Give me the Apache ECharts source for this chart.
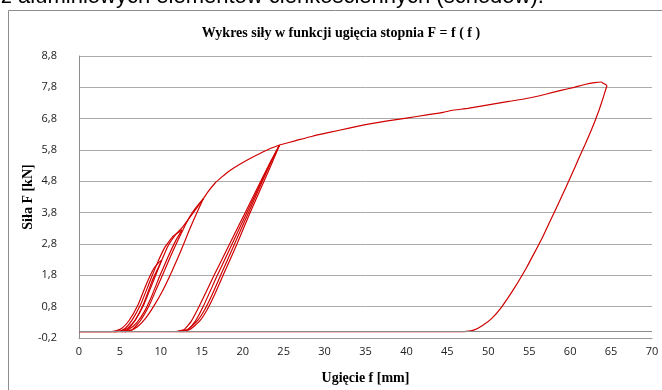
<!DOCTYPE html>
<html>
<head>
<meta charset="utf-8">
<script src="https://cdn.jsdelivr.net/npm/echarts@6/dist/echarts.min.js"></script>
<style>
  html, body { margin: 0; padding: 0; background: #fff; }
  #chart { width: 662px; height: 390px; }
</style>
</head>
<body>
<div id="chart"></div>
<script>
// axis setup (ticks -0,2 ... 8,8 and 0 ... 70)
const yMin = -0.2, yMax = 8.8, yStep = 1;
const xMin = 0, xMax = 70, xStep = 5;

// cycles: [ugiecie mm, sila kN]
const load1 = [[0,0],[3.5,0],[4.5,0.03],[5.2,0.1],[6.1,0.35],[7.2,0.85],[8.2,1.5],[9.1,2.0],[9.7,2.2],[10.1,2.28]];
const unload1 = [[10.1,2.28],[9.6,2.0],[8.9,1.6],[7.9,0.9],[6.9,0.38],[5.9,0.1],[5.0,0.02],[4.2,0]];
const load2 = [[4.2,0],[5.1,0.03],[5.7,0.12],[6.5,0.38],[7.5,0.85],[8.5,1.5],[9.5,2.15],[10.5,2.7],[11.5,3.05],[12.6,3.25]];
const unload2 = [[12.6,3.25],[11.8,2.9],[10.9,2.4],[9.9,1.8],[8.9,1.15],[8.0,0.65],[7.1,0.3],[6.1,0.08],[5.2,0]];
const load3 = [[5.2,0],[5.9,0.05],[6.8,0.35],[7.9,0.85],[8.9,1.5],[9.9,2.15],[10.9,2.75],[11.8,3.1],[12.6,3.32],[13.4,3.6],[14.3,3.92],[15.2,4.25]];
const unload3 = [[15.2,4.25],[14.4,3.8],[13.4,3.2],[12.4,2.55],[11.3,1.9],[10.2,1.3],[9.1,0.8],[8.1,0.42],[7.1,0.15],[6.2,0.03],[5.6,0]];
const load4 = [[5.6,0],[6.5,0.06],[7.5,0.35],[8.6,0.85],[9.6,1.45],[10.6,2.05],[11.6,2.65],[12.6,3.2],[13.6,3.7],[14.4,4.0],[15.2,4.25]];
const envelope1 = [[15.2,4.25],[15.8,4.48],[16.6,4.74],[17.5,4.95],[18.4,5.14],[19.6,5.34],[20.9,5.53],[22.1,5.69],[23.3,5.84],[24.5,5.96]];
const unload5 = [[24.5,5.96],[23.6,5.4],[22.6,4.8],[20.9,3.8],[19.3,2.8],[17.6,1.8],[16.5,1.15],[15.6,0.68],[14.7,0.33],[13.6,0.08],[12.6,0]];
const load5 = [[12.4,0],[13.4,0.08],[14.2,0.33],[15.2,0.82],[16.9,1.8],[18.7,2.8],[20.5,3.8],[22.3,4.8],[23.4,5.4],[24.5,5.96]];
const unload6 = [[24.5,5.96],[23.4,5.38],[22.4,4.8],[20.7,3.8],[19.0,2.8],[17.3,1.8],[16.2,1.15],[15.3,0.68],[14.4,0.33],[13.3,0.08],[12.2,0]];
const load6 = [[11.8,0],[12.9,0.08],[13.7,0.33],[14.7,0.82],[16.5,1.8],[18.4,2.8],[20.3,3.8],[22.2,4.8],[23.3,5.38],[24.5,5.96]];
const envelope2 = [[24.5,5.96],[26.5,6.1],[28.5,6.24],[30.6,6.36],[33,6.5],[35,6.61],[37.5,6.72],[40,6.82],[42.5,6.92],[44.5,7.0],[45.5,7.06],[47.5,7.13],[50,7.24],[52.5,7.35],[55,7.46],[57,7.58],[59,7.71],[60.5,7.8],[61.8,7.89],[63,7.95],[63.8,7.97],[64.1,7.92],[64.5,7.86]];
const unloadFinal = [[64.5,7.86],[64.0,7.44],[63.5,7.05],[63.0,6.7],[62.4,6.32],[61.8,5.96],[61.2,5.62],[60.6,5.26],[59.5,4.62],[58.4,4.0],[57.5,3.5],[56.6,3.0],[55.6,2.5],[54.7,2.06],[53.2,1.4],[51.6,0.78],[50.4,0.42],[49.3,0.2],[48.3,0.06],[47.3,0.01],[46,0],[0,0]];

const paths = [load1, unload1, load2, unload2, load3, unload3, load4, envelope1,
  unload5, load5, unload6, load6, envelope2, unloadFinal];

const myChart = echarts.init(document.getElementById("chart"));

const curveSeries = paths.map(p => ({
  type: "line",
  data: p,
  smooth: 0.15,
  showSymbol: false,
  z: 3,
  lineStyle: { color: "#d00000", width: 1.2 },
  itemStyle: { color: "#d00000" },
}));

const nameFont = { fontFamily: "Liberation Serif", fontWeight: "bold", fontSize: 14, color: "#000" };

const option = {
  animation: false,
  title: {
    text: "Wykres siły w funkcji ugięcia stopnia F = f ( f )",
    left: 336,
    textAlign: "center",
    top: 21,
    textStyle: nameFont,
  },
  graphic: [
    {
      type: "rect",
      shape: { x: 8.5, y: 10.5, width: 700, height: 420 },
      style: { fill: "none", stroke: "#8c8c8c", lineWidth: 1 },
    },
    {
      type: "text",
      style: {
        x: 1, y: 8,
        text: "z aluminiowych elementów cienkościennych (schodów).",
        font: "22px 'Liberation Sans'",
        fill: "#000",
        verticalAlign: "bottom",
      },
    },
  ],
  grid: { left: 79, right: 10, top: 56, bottom: 48 },
  xAxis: {
    type: "value",
    min: xMin, max: xMax, interval: xStep,
    name: "Ugięcie f [mm]",
    nameLocation: "middle",
    nameGap: 33,
    nameMoveOverlap: false,
    nameTextStyle: nameFont,
    axisLine: { onZero: false, lineStyle: { color: "#9a9a9a" } },
    axisTick: { show: false },
    splitLine: { show: false },
    axisLabel: { margin: 8, fontFamily: "Open Sans", fontSize: 11, color: "#222" },
  },
  yAxis: {
    type: "value",
    min: yMin, max: yMax, interval: yStep,
    name: "Siła F [kN]",
    nameLocation: "middle",
    nameGap: 44,
    nameMoveOverlap: false,
    nameTextStyle: nameFont,
    axisLine: { show: true, lineStyle: { color: "#8c8c8c" } },
    axisTick: { show: false },
    splitLine: { lineStyle: { color: "#ababab" } },
    axisLabel: {
      margin: 22, fontFamily: "Open Sans", fontSize: 11, color: "#222",
      formatter: v => v.toFixed(1).replace(".", ","),
    },
  },
  series: [
    {
      // Excel draws the category axis line at F = 0
      type: "line",
      data: [],
      z: 1,
      markLine: {
        silent: true,
        symbol: "none",
        label: { show: false },
        lineStyle: { color: "#8c8c8c", type: "solid", width: 1 },
        data: [{ yAxis: 0 }],
      },
    },
    ...curveSeries,
  ],
};

myChart.setOption(option, true);
</script>
</body>
</html>
